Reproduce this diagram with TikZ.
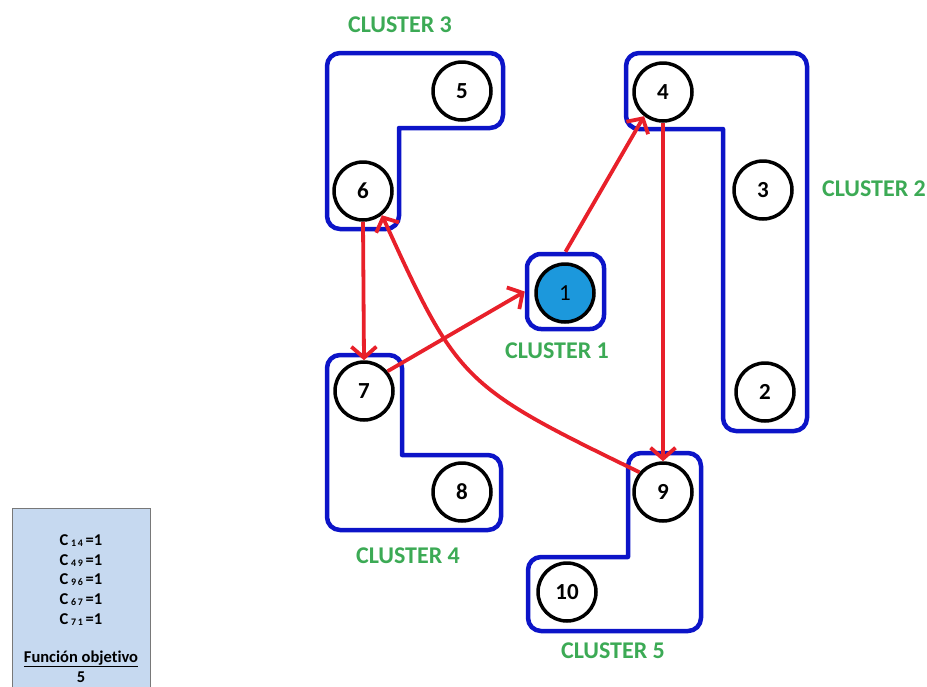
\documentclass[tikz,border=0pt]{standalone}
\usepackage{fontspec}
\setmainfont{Carlito}[Ligatures={NoCommon}]
\usetikzlibrary{arrows.meta}
\definecolor{cblue}{RGB}{12,20,200}
\definecolor{cred}{RGB}{232,32,42}
\definecolor{cgreen}{RGB}{60,170,85}
\definecolor{cfill}{RGB}{28,152,220}
\definecolor{boxfill}{RGB}{198,217,240}
\definecolor{boxline}{RGB}{120,120,120}
\tikzset{
  clus/.style={draw=cblue, line width=4.5pt, line join=round},
  vtx/.style={circle, draw=black, line width=3.5pt, minimum size=58pt, inner sep=0pt,
    font=\fontsize{23}{26}\selectfont\bfseries},
  arr/.style={draw=cred, line width=3.8pt, -{Straight Barb[length=11pt,width=25pt]}},
  clab/.style={text=cgreen, font=\fontsize{24}{28}\selectfont\bfseries},
  btxt/.style={font=\fontsize{16.5}{19}\selectfont\bfseries}
}
\newcommand{\csub}[2]{C\,\raisebox{-1pt}{\fontsize{10}{10}\selectfont #1\,#2}\,=1}
\begin{document}
\begin{tikzpicture}[x=1pt,y=-1pt]
\useasboundingbox (0,0) rectangle (927,686);
% clusters
\draw[clus] (327,53) [rounded corners=13] -- (503,53) -- (503,128) [sharp corners] -- (399,128) [rounded corners=13] -- (399,229) -- (327,229) -- cycle;
\draw[clus] (626,53) [rounded corners=13] -- (807,53) -- (807,431) -- (723,431) [sharp corners] -- (723,129) [rounded corners=13] -- (626,129) -- cycle;
\draw[clus] (327,355) [rounded corners=13] -- (402,355) [sharp corners] -- (402,455) [rounded corners=13] -- (501,455) -- (501,530) -- (327,530) -- cycle;
\draw[clus] (628,453) [rounded corners=13] -- (701,453) -- (701,631) -- (528,631) -- (528,557) [sharp corners] -- (628,557) [rounded corners=13] -- cycle;
\node[draw=cblue, line width=4.5pt, rounded corners=14pt, minimum width=77pt, minimum height=75pt, inner sep=0pt] (c1) at (565.5,291.5) {};
% vertices
\node[vtx, fill=cfill, font=\fontsize{23}{26}\selectfont] (n1) at (565,293) {1};
\node[vtx] (n2) at (765,392) {2};
\node[vtx] (n3) at (763,190) {3};
\node[vtx] (n4) at (663,92) {4};
\node[vtx] (n5) at (462,91) {5};
\node[vtx] (n6) at (363,191) {6};
\node[vtx] (n7) at (364,391) {7};
\node[vtx] (n8) at (462,492) {8};
\node[vtx] (n9) at (663,492) {9};
\node[vtx] (n10) at (567,592) {10};
% labels
\node[clab] (l3) at (400,25) {CLUSTER 3};
\node[clab] (l2) at (874,189) {CLUSTER 2};
\node[clab] (l1) at (557,351) {CLUSTER 1};
\node[clab] (l4) at (408,556) {CLUSTER 4};
\node[clab] (l5) at (613,651) {CLUSTER 5};
% arrows
\draw[arr] (c1.north) -- (n4.232);
\draw[arr] (n4.south) -- (n9.north);
\draw[arr] (n6.south) -- (n7.north);
\draw[arr] (n7.40) -- (c1.west);
\draw[arr] (n9.140) .. controls (462,386) and (458,382) .. (n6.308);
% result box
\draw[fill=boxfill, draw=boxline, line width=1pt] (12,508) rectangle (150,692);
\node[btxt] (r1) at (81,541) {\csub{1}{4}};
\node[btxt] (r2) at (81,561) {\csub{4}{9}};
\node[btxt] (r3) at (81,580) {\csub{9}{6}};
\node[btxt] (r4) at (81,600) {\csub{6}{7}};
\node[btxt] (r5) at (81,620) {\csub{7}{1}};
\node[btxt] (r6) at (81,659) {\underline{Función objetivo}};
\node[btxt] (r7) at (81,677) {5};
\end{tikzpicture}
\end{document}
